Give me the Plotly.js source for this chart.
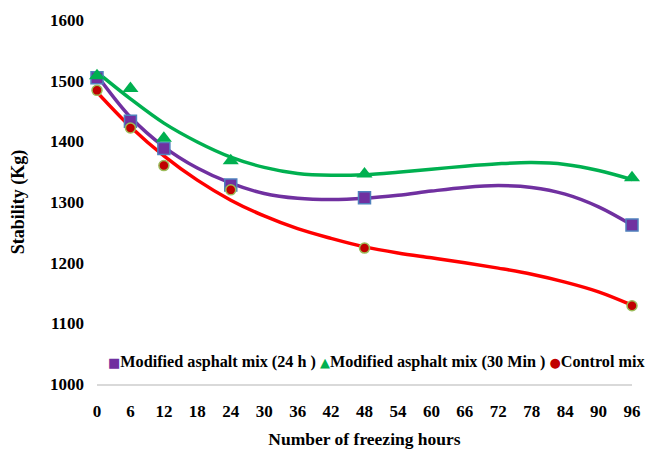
<!DOCTYPE html>
<html>
<head>
<meta charset="utf-8">
<script src="https://cdn.plot.ly/plotly-3.0.1.min.js"></script>
<style>html,body{margin:0;padding:0;background:#fff;}#chart{width:649px;height:453px;}</style>
</head>
<body>
<div id="chart"></div>
<script>
// Measured points
const hours = [0, 6, 12, 24, 48, 96];
const mod24 = [1505, 1433, 1388, 1328, 1307, 1262];
const mod30 = [1508, 1487, 1405, 1368, 1346, 1340];
const control = [1484, 1422, 1360, 1320, 1224, 1129];

// Trend curves
const trendHours = [0, 6, 12, 18, 24, 30, 36, 42, 48, 54, 60, 66, 72, 78, 84, 90, 96];
const trendMod24 = [1509, 1440, 1391, 1356, 1331, 1314, 1306, 1304, 1306, 1311, 1318, 1324, 1327, 1324, 1313, 1292, 1262];
const trendMod30 = [1514, 1470, 1430, 1399, 1374, 1357, 1347, 1344, 1345, 1349, 1354, 1359, 1363, 1365, 1362, 1352, 1337];
const trendControl = [1481, 1424, 1376, 1336, 1303, 1277, 1256, 1240, 1226, 1216, 1208, 1200, 1191, 1181, 1168, 1152, 1130];

const seriesNames = ['Modified asphalt mix (24 h )', 'Modified asphalt mix (30 Min )', 'Control mix'];
const xTicks = [0, 6, 12, 18, 24, 30, 36, 42, 48, 54, 60, 66, 72, 78, 84, 90, 96];
const yTicks = [1000, 1100, 1200, 1300, 1400, 1500, 1600];

const FONT = 'Liberation Serif, Times New Roman, serif';
const cPurple = '#7030A0', cGreen = '#00B050', cRed = '#FF0000', cDarkRed = '#C00000';

const traces = [
  {x: trendHours, y: trendMod24, mode: 'lines', line: {color: cPurple, width: 3.5, shape: 'spline', smoothing: 1}, showlegend: false, hoverinfo: 'skip'},
  {x: trendHours, y: trendMod30, mode: 'lines', line: {color: cGreen, width: 3.5, shape: 'spline', smoothing: 1}, showlegend: false, hoverinfo: 'skip'},
  {x: trendHours, y: trendControl, mode: 'lines', line: {color: cRed, width: 3.5, shape: 'spline', smoothing: 1}, showlegend: false, hoverinfo: 'skip'},
  {x: hours, y: mod24, name: seriesNames[0], mode: 'markers', cliponaxis: false, showlegend: false,
   marker: {symbol: 'square', size: 12, color: cPurple, line: {color: '#4F81BD', width: 1.5}}},
  {x: hours, y: mod30, name: seriesNames[1], mode: 'markers', cliponaxis: false, showlegend: false,
   marker: {symbol: 'triangle-up', size: 14, color: cGreen, line: {width: 0}}},
  {x: hours, y: control, name: seriesNames[2], mode: 'markers', cliponaxis: false, showlegend: false,
   marker: {symbol: 'circle', size: 10, color: cDarkRed, line: {color: '#9BBB59', width: 1.5}}}
];

// Legend row (key symbols + series names) as one text line
function key(color, glyph) {
  return '<span style="color:' + color + ';font-family:DejaVu Sans;font-size:13px">' + glyph + '</span>';
}
const legendText =
  key(cPurple, '■') + seriesNames[0] + ' ' +
  key(cGreen, '▲') + seriesNames[1] + ' ' +
  key(cDarkRed, '●') + seriesNames[2];

const layout = {
  width: 649, height: 453,
  margin: {l: 97, r: 17, t: 20, b: 69},
  paper_bgcolor: '#fff', plot_bgcolor: '#fff',
  font: {family: FONT, color: '#000', size: 17},
  showlegend: false,
  annotations: [{
    xref: 'paper', yref: 'paper', x: 0.016, y: 0.06, xanchor: 'left', yanchor: 'middle',
    text: legendText, showarrow: false,
    font: {family: FONT, size: 16.2, weight: 'bold', color: '#000'}
  }],
  xaxis: {
    range: [0, 96], tickmode: 'array', tickvals: xTicks, ticktext: xTicks.map(String),
    showgrid: false, zeroline: false, showline: true, linecolor: '#D9D9D9', linewidth: 2,
    ticks: '', ticklabelstandoff: 11,
    tickfont: {family: FONT, size: 17, weight: 'bold', color: '#000'},
    title: {text: 'Number of freezing hours', font: {family: FONT, size: 17.5, weight: 'bold', color: '#000'}, standoff: 12}
  },
  yaxis: {
    range: [1000, 1600], tickmode: 'array', tickvals: yTicks, ticktext: yTicks.map(String),
    showgrid: false, zeroline: false, showline: false, ticks: '', ticklabelstandoff: 12,
    tickfont: {family: FONT, size: 17, weight: 'bold', color: '#000'},
    title: {text: 'Stability (Kg)', font: {family: FONT, size: 18, weight: 'bold', color: '#000'}, standoff: 20}
  }
};

Plotly.newPlot('chart', traces, layout, {displayModeBar: false, staticPlot: true});
</script>
</body>
</html>
